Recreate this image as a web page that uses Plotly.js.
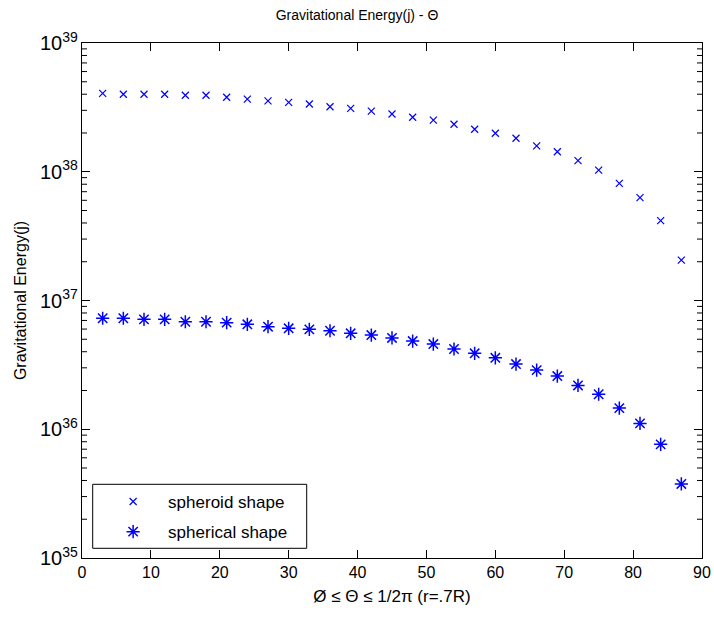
<!DOCTYPE html>
<html>
<head>
<meta charset="utf-8">
<script src="https://cdn.plot.ly/plotly-3.0.1.min.js"></script>
<style>html,body{margin:0;padding:0;background:#fff;}#chart{width:714px;height:617px;}</style>
</head>
<body>
<div id="chart"></div>
<script>
// Data
const theta = [3,6,9,12,15,18,21,24,27,30,33,36,39,42,45,48,51,54,57,60,63,66,69,72,75,78,81,84,87];
const spheroidEnergy = [4.06e38,4.0e38,4.0e38,4.0e38,3.93e38,3.93e38,3.79e38,3.67e38,3.55e38,3.46e38,3.36e38,3.2e38,3.11e38,2.96e38,2.81e38,
  2.65e38,2.52e38,2.34e38,2.14e38,1.99e38,1.82e38,1.59e38,1.43e38,1.22e38,1.03e38,8.13e37,6.29e37,4.17e37,2.06e37];
const sphericalEnergy = [7.28e36,7.28e36,7.14e36,7.14e36,6.84e36,6.84e36,6.73e36,6.53e36,6.26e36,6.08e36,5.97e36,5.82e36,5.56e36,5.39e36,5.12e36,
  4.84e36,4.59e36,4.20e36,3.89e36,3.59e36,3.21e36,2.88e36,2.59e36,2.19e36,1.87e36,1.46e36,1.11e36,7.63e35,3.76e35];
const seriesNames = ['spheroid shape','spherical shape'];
const titleText = 'Gravitational Energy(j) - Θ';
const xTitle = 'Ø ≤ Θ ≤ 1/2π (r=.7R)';
const yTitle = 'Gravitational Energy(j)';
const decades = [35, 36, 37, 38];

const FONT = 'Liberation Sans, Arial, sans-serif';
const BLUE = 'rgb(0,0,255)';

const traces = [
  {x: theta, y: spheroidEnergy, name: seriesNames[0], type: 'scatter', mode: 'markers', legendgroup: 'a',
   marker: {symbol: 'x-thin', size: 7, color: BLUE, line: {width: 1.2, color: BLUE}}},
  {x: theta, y: sphericalEnergy, name: seriesNames[1], type: 'scatter', mode: 'markers', legendgroup: 'b',
   marker: {symbol: 'asterisk-open', size: 11, color: BLUE, line: {width: 1.5, color: BLUE}}}
];

// legend box (MATLAB-style frame)
const shapes = [
  {type: 'rect', xref: 'paper', yref: 'paper', layer: 'above',
   x0: (92.7-82)/620, x1: (306.7-82)/620, y0: (558-548.3)/515, y1: (558-484.3)/515,
   line: {color: '#000', width: 1}, fillcolor: '#fff'}
];
// minor log ticks (2..9 in each decade) on left and right edges
const minorLen = 5 / 620;
decades.forEach(d => {
  for (let k = 2; k <= 9; k++) {
    const yv = k * Math.pow(10, d);
    shapes.push({type: 'line', xref: 'paper', yref: 'y', x0: 0, x1: minorLen, y0: yv, y1: yv, layer: 'above', line: {color: '#000', width: 1}});
    shapes.push({type: 'line', xref: 'paper', yref: 'y', x0: 1 - minorLen, x1: 1, y0: yv, y1: yv, layer: 'above', line: {color: '#000', width: 1}});
  }
});

const layout = {
  width: 714, height: 617,
  paper_bgcolor: '#fff', plot_bgcolor: '#fff',
  margin: {l: 82, r: 12, t: 43, b: 59},
  font: {family: FONT, size: 14, color: '#000'},
  title: {text: titleText, font: {family: FONT, size: 14, color: '#000'}, x: 0.5, xanchor: 'center', y: 1 - 15/617, yanchor: 'middle'},
  xaxis: {
    range: [0, 90], dtick: 10, tick0: 0,
    ticks: 'inside', ticklen: 8, tickwidth: 1, tickcolor: '#000',
    showline: true, linecolor: '#000', linewidth: 1, mirror: 'allticks',
    showgrid: false, zeroline: false,
    tickfont: {family: FONT, size: 16, color: '#000'},
    title: {text: xTitle, font: {family: FONT, size: 17, color: '#000'}, standoff: 9}
  },
  yaxis: {
    type: 'log', range: [35, 39], dtick: 1,
    exponentformat: 'power',
    ticks: 'inside', ticklen: 8, tickwidth: 1, tickcolor: '#000',
    showline: true, linecolor: '#000', linewidth: 1, mirror: 'allticks',
    showgrid: false, zeroline: false,
    tickfont: {family: FONT, size: 16, color: '#000'},
    title: {text: yTitle, font: {family: FONT, size: 16, color: '#000'}, standoff: 9}
  },
  showlegend: true,
  legend: {
    x: 0.026, y: 0.1437, xanchor: 'left', yanchor: 'top',
    bgcolor: 'rgba(0,0,0,0)', borderwidth: 0,
    font: {family: FONT, size: 17, color: '#000'},
    itemwidth: 60, traceorder: 'grouped', tracegroupgap: 5
  },
  shapes: shapes
};

Plotly.newPlot('chart', traces, layout, {displayModeBar: false, staticPlot: true});
</script>
</body>
</html>
